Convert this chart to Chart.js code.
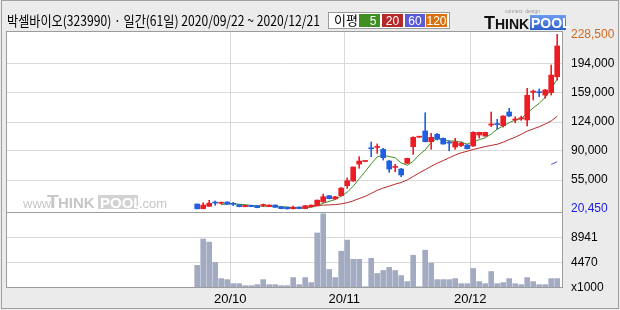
<!DOCTYPE html>
<html>
<head>
<meta charset="utf-8">
<script src="https://cdn.jsdelivr.net/npm/chart.js@4.4.1/dist/chart.umd.min.js"></script>
<style>
  html, body { margin: 0; padding: 0; background: #ebebeb; }
  canvas { display: block; }
</style>
</head>
<body>
<canvas id="chart" width="620" height="310"></canvas>
<script>
/* ---------- data ---------- */
const dates = [
  "2020-09-22","2020-09-23","2020-09-24","2020-09-25","2020-09-28","2020-09-29",
  "2020-10-05","2020-10-06","2020-10-07","2020-10-08","2020-10-12","2020-10-13","2020-10-14","2020-10-15","2020-10-16",
  "2020-10-19","2020-10-20","2020-10-21","2020-10-22","2020-10-23","2020-10-26","2020-10-27","2020-10-28","2020-10-29","2020-10-30",
  "2020-11-02","2020-11-03","2020-11-04","2020-11-05","2020-11-06","2020-11-09","2020-11-10","2020-11-11","2020-11-12","2020-11-13",
  "2020-11-16","2020-11-17","2020-11-18","2020-11-19","2020-11-20","2020-11-23","2020-11-24","2020-11-25","2020-11-26","2020-11-27","2020-11-30",
  "2020-12-01","2020-12-02","2020-12-03","2020-12-04","2020-12-07","2020-12-08","2020-12-09","2020-12-10","2020-12-11",
  "2020-12-14","2020-12-15","2020-12-16","2020-12-17","2020-12-18","2020-12-21"
];

const opens = [
  26400, 20900, 23700, 27800, 27300, 28800, 26300, 25600, 23300, 24900,
  24500, 24700, 23300, 25200, 23200, 22500, 20800, 22800, 21000, 23000,
  24200, 28900, 36300, 32500, 36300, 48200, 53800, 74000, 77100, 92500,
  93800, 91500, 77600, 70000, 68100, 74900, 94700, 106000, 113400, 100600,
  109400, 104700, 100000, 94300, 96000, 96700, 95500, 108600, 107400, 120500,
  122000, 119700, 136000, 126500, 127800, 126500, 159500, 160000, 156200, 159000,
  178000
];
const highs = [
  26500, 27900, 30800, 30000, 28800, 29000, 28400, 25800, 25000, 25000,
  24600, 26400, 25400, 25300, 23400, 22700, 24000, 23000, 24700, 25400,
  31300, 38300, 36600, 35500, 46000, 57400, 70500, 82800, 77500, 100300,
  98000, 92800, 78500, 73700, 68900, 81000, 106600, 106500, 135100, 110600,
  110600, 105000, 101800, 104700, 100600, 97000, 112500, 112000, 112000, 136000,
  127300, 131500, 140400, 130400, 131200, 164200, 162200, 163400, 163000, 192000,
  228500
];
const lows = [
  20600, 20700, 23500, 24900, 26400, 25900, 24500, 23000, 23000, 23100,
  21900, 23200, 23100, 22300, 20700, 20500, 20450, 20800, 20800, 22800,
  24000, 28500, 32500, 32000, 36000, 45100, 53500, 68900, 76900, 82800,
  86800, 78800, 64200, 64900, 58900, 74500, 85600, 105800, 100400, 91600,
  102600, 97500, 89900, 91600, 94700, 92000, 95000, 105000, 107000, 118500,
  115400, 118000, 130400, 123200, 126000, 119300, 150300, 154200, 152300, 156200,
  174000
];
const closes = [
  20700, 25200, 27300, 27500, 27700, 26100, 26000, 23300, 24800, 23300,
  22100, 24900, 25200, 22500, 20900, 20600, 22500, 21000, 24400, 25000,
  31000, 35100, 32800, 35000, 45400, 54200, 70500, 77600, 77300, 92200,
  95000, 81600, 68100, 71000, 61000, 80800, 105800, 106300, 100600, 105800,
  103800, 97900, 99000, 100600, 98700, 92300, 111800, 111800, 111800, 121300,
  121000, 131200, 131200, 127500, 128800, 155900, 160800, 159000, 162200, 180000,
  214600
];
// volume in thousands of shares (axis shows x1000)
const volumes = [
  3990, 8640, 8100, 4520, 1660, 1480, 770, 770, 410, 410,
  590, 1480, 590, 590, 410, 410, 1840, 590, 1840, 950,
  9710, 13100, 3270, 1840, 6490, 8460, 5060, 5060, 230, 5240,
  2560, 3090, 3630, 3090, 2200, 1130, 5780, 230, 6670, 4400,
  1480, 1480, 1480, 1660, 770, 770, 3450, 1130, 770, 2910,
  770, 950, 1660, 770, 590, 1840, 1130, 590, 590, 1660,
  1660
];

const maPeriods = [5, 20, 60, 120];
const maColors = ["#3f8f22", "#b42a2a", "#5b5bd6", "#d8700f"];
const priceTicks = [20450, 55000, 90000, 124000, 159000, 194000, 228500];
const volumeTicks = [0, 4470, 8941];
const volumeMax = 13411;
const title = "박셀바이오(323990) · 일간(61일) 2020/09/22 ~ 2020/12/21";

/* ---------- derived ---------- */
const UP = "#ed1c24";
const DOWN = "#1f5fe0";
const idx = dates.map((_, i) => i);
const colorOf = idx.map(i => closes[i] >= opens[i] ? UP : DOWN);

// first trading day of each month -> tick sits on the slot boundary before it
const monthStarts = idx.filter(i => i > 0 && dates[i].slice(5, 7) !== dates[i - 1].slice(5, 7));
const monthLabels = monthStarts.map(i => dates[i].slice(2, 4) + "/" + dates[i].slice(5, 7));

function movingAverage(n) {
  const out = [];
  for (let i = n - 1; i < closes.length; i++) {
    let s = 0;
    for (let k = i - n + 1; k <= i; k++) s += closes[k];
    out.push({ x: i, y: s / n });
  }
  return out;
}

const tickFont = { family: "'Liberation Sans'", size: 12 };

/* ---------- plugins ---------- */
const backdrop = {
  id: "backdrop",
  beforeDraw(chart) {
    const { ctx, chartArea: a } = chart;
    ctx.save();
    ctx.fillStyle = "#ebebeb";
    ctx.fillRect(0, 0, chart.width, chart.height);
    ctx.fillStyle = "#ffffff";
    ctx.fillRect(a.left, a.top, a.right - a.left, a.bottom - a.top);
    ctx.restore();
  },
  beforeDatasetsDraw(chart) {
    // faint watermark in the price pane
    const { ctx } = chart;
    ctx.save();
    ctx.fillStyle = "#c6c6c6";
    ctx.textBaseline = "alphabetic";
    ctx.font = "13px 'Liberation Sans'";
    ctx.fillText("www.", 23, 208);
    ctx.font = "bold 19px 'Liberation Sans'";
    ctx.fillText("T", 47, 208);
    ctx.font = "bold 15px 'Liberation Sans'";
    ctx.fillText("HINK", 58, 208);
    ctx.fillStyle = "#d2d2d2";
    ctx.fillRect(98, 195, 40, 14);
    ctx.fillStyle = "#ffffff";
    ctx.font = "bold 15px 'Liberation Sans'";
    ctx.fillText("POOL", 100, 208);
    ctx.fillStyle = "#c6c6c6";
    ctx.font = "13px 'Liberation Sans'";
    ctx.fillText(".com", 139, 208);
    ctx.restore();
  },
  afterDatasetsDraw(chart) {
    const { ctx, chartArea: a } = chart;
    const yv = chart.scales.yv;
    ctx.save();
    ctx.strokeStyle = "#9c9c9c";
    ctx.lineWidth = 1;
    ctx.strokeRect(a.left - 0.5, a.top - 0.5, a.right - a.left + 1, a.bottom - a.top);
    ctx.beginPath();
    ctx.moveTo(a.left, Math.round(yv.top) + 0.5);
    ctx.lineTo(a.right, Math.round(yv.top) + 0.5);
    ctx.stroke();
    ctx.restore();
  },
  afterDraw(chart) {
    const { ctx } = chart;
    ctx.save();
    // outer frame
    ctx.strokeStyle = "#a0a0a0";
    ctx.strokeRect(1.5, 0.5, 617, 308);

    // title, squeezed to the reference width
    ctx.fillStyle = "#000";
    ctx.textBaseline = "alphabetic";
    ctx.font = "14px 'Noto Sans CJK KR'";
    const w = ctx.measureText(title).width;
    ctx.save();
    ctx.translate(7, 26);
    ctx.scale(313 / w, 1);
    ctx.fillText(title, 0, 0);
    ctx.restore();

    // moving-average legend box
    ctx.fillStyle = "#fff";
    ctx.fillRect(328, 12, 122, 17);
    ctx.strokeStyle = "#9a9a9a";
    ctx.strokeRect(328.5, 12.5, 121, 16);
    ctx.fillStyle = "#000";
    ctx.font = "13px 'Noto Sans CJK KR'";
    ctx.fillText("이평", 334, 25);
    const boxX = [359, 382, 405, 426];
    const boxW = [21, 21, 20, 21];
    ctx.font = "12px 'Liberation Sans'";
    ctx.textAlign = "center";
    maPeriods.forEach((p, k) => {
      ctx.fillStyle = maColors[k];
      ctx.fillRect(boxX[k], 14, boxW[k], 13);
      ctx.fillStyle = "#fff";
      const tx = p < 10 ? boxX[k] + boxW[k] - 7 : boxX[k] + boxW[k] / 2;
      ctx.fillText(String(p), tx, 25);
    });
    ctx.textAlign = "left";

    // logo
    ctx.fillStyle = "#111";
    ctx.font = "bold 18px 'Liberation Sans'";
    ctx.fillText("T", 484, 29);
    ctx.font = "bold 14px 'Liberation Sans'";
    ctx.fillText("HINK", 495, 29);
    const g = ctx.createLinearGradient(0, 15, 0, 30);
    g.addColorStop(0, "#6f9bf0");
    g.addColorStop(1, "#2d5fcc");
    ctx.fillStyle = g;
    ctx.fillRect(530, 15, 36, 15);
    ctx.fillStyle = "#fff";
    ctx.font = "bold 14px 'Liberation Sans'";
    ctx.fillText("POOL", 531, 28);
    ctx.fillStyle = "#9a9a9a";
    ctx.font = "5px 'Liberation Sans'";
    ctx.fillText("connect  design", 505, 13);
    ctx.restore();
  }
};

/* ---------- chart ---------- */
const maSets = maPeriods.map((p, k) => ({
  type: "line",
  label: "MA" + p,
  data: movingAverage(p),
  yAxisID: "y",
  borderColor: maColors[k],
  borderWidth: 1,
  pointRadius: 0,
  tension: 0,
  order: 3
}));

new Chart(document.getElementById("chart").getContext("2d"), {
  type: "bar",
  data: {
    datasets: [
      {
        label: "body",
        data: idx.map(i => ({ x: i, y: [opens[i], closes[i]] })),
        yAxisID: "y",
        backgroundColor: colorOf,
        barThickness: 5,
        minBarLength: 1,
        grouped: false,
        order: 1
      },
      {
        label: "wick",
        data: idx.map(i => ({ x: i, y: [lows[i], highs[i]] })),
        yAxisID: "y",
        backgroundColor: colorOf,
        barThickness: 1,
        grouped: false,
        order: 2
      },
      {
        label: "volume",
        data: idx.map(i => ({ x: i, y: volumes[i] })),
        yAxisID: "yv",
        backgroundColor: "#a3abc3",
        barThickness: 5,
        grouped: false,
        order: 4
      },
      ...maSets
    ]
  },
  options: {
    responsive: false,
    animation: false,
    devicePixelRatio: 1,
    layout: { padding: { left: 7, top: 32, right: 0, bottom: 0 } },
    plugins: { legend: { display: false }, tooltip: { enabled: false } },
    scales: {
      x: {
        type: "linear",
        offset: false,
        min: -31.7,
        max: 60.8,
        grid: { color: "#d9d9d9", drawTicks: false, offset: false },
        border: { display: false },
        afterBuildTicks: s => { s.ticks = monthStarts.map(i => ({ value: i - 0.5 })); },
        afterFit: s => { s.height = 22; },
        ticks: {
          autoSkip: false,
          maxRotation: 0,
          padding: 4,
          color: "#000",
          font: { family: "'Liberation Sans'", size: 13 },
          callback: (v, i) => monthLabels[i]
        }
      },
      y: {
        type: "linear",
        position: "right",
        stack: "panes",
        stackWeight: 180,
        min: 16900,
        max: 231300,
        border: { display: false },
        grid: {
          drawTicks: false,
          color: c => (c.tick && (c.tick.value === priceTicks[0] || c.tick.value === priceTicks[priceTicks.length - 1])) ? "rgba(0,0,0,0)" : "#d9d9d9"
        },
        afterBuildTicks: s => { s.ticks = priceTicks.map(v => ({ value: v })); },
        afterFit: s => { s.width = 58; },
        ticks: {
          autoSkip: false,
          padding: 9,
          font: tickFont,
          color: c => c.tick.value === priceTicks[priceTicks.length - 1] ? "#d2691e" : (c.tick.value === priceTicks[0] ? "#1a1ae0" : "#000"),
          callback: v => v.toLocaleString("en-US")
        }
      },
      yv: {
        type: "linear",
        position: "right",
        stack: "panes",
        stackWeight: 76,
        min: 0,
        max: volumeMax,
        border: { display: false },
        grid: { drawTicks: false, color: c => (c.tick && c.tick.value === 0) ? "rgba(0,0,0,0)" : "#d9d9d9" },
        afterBuildTicks: s => { s.ticks = volumeTicks.map(v => ({ value: v })); },
        afterFit: s => { s.width = 58; },
        ticks: {
          autoSkip: false,
          padding: 9,
          font: tickFont,
          color: "#000",
          callback: v => v === 0 ? "x1000" : String(v)
        }
      }
    }
  },
  plugins: [backdrop]
});
</script>
</body>
</html>
